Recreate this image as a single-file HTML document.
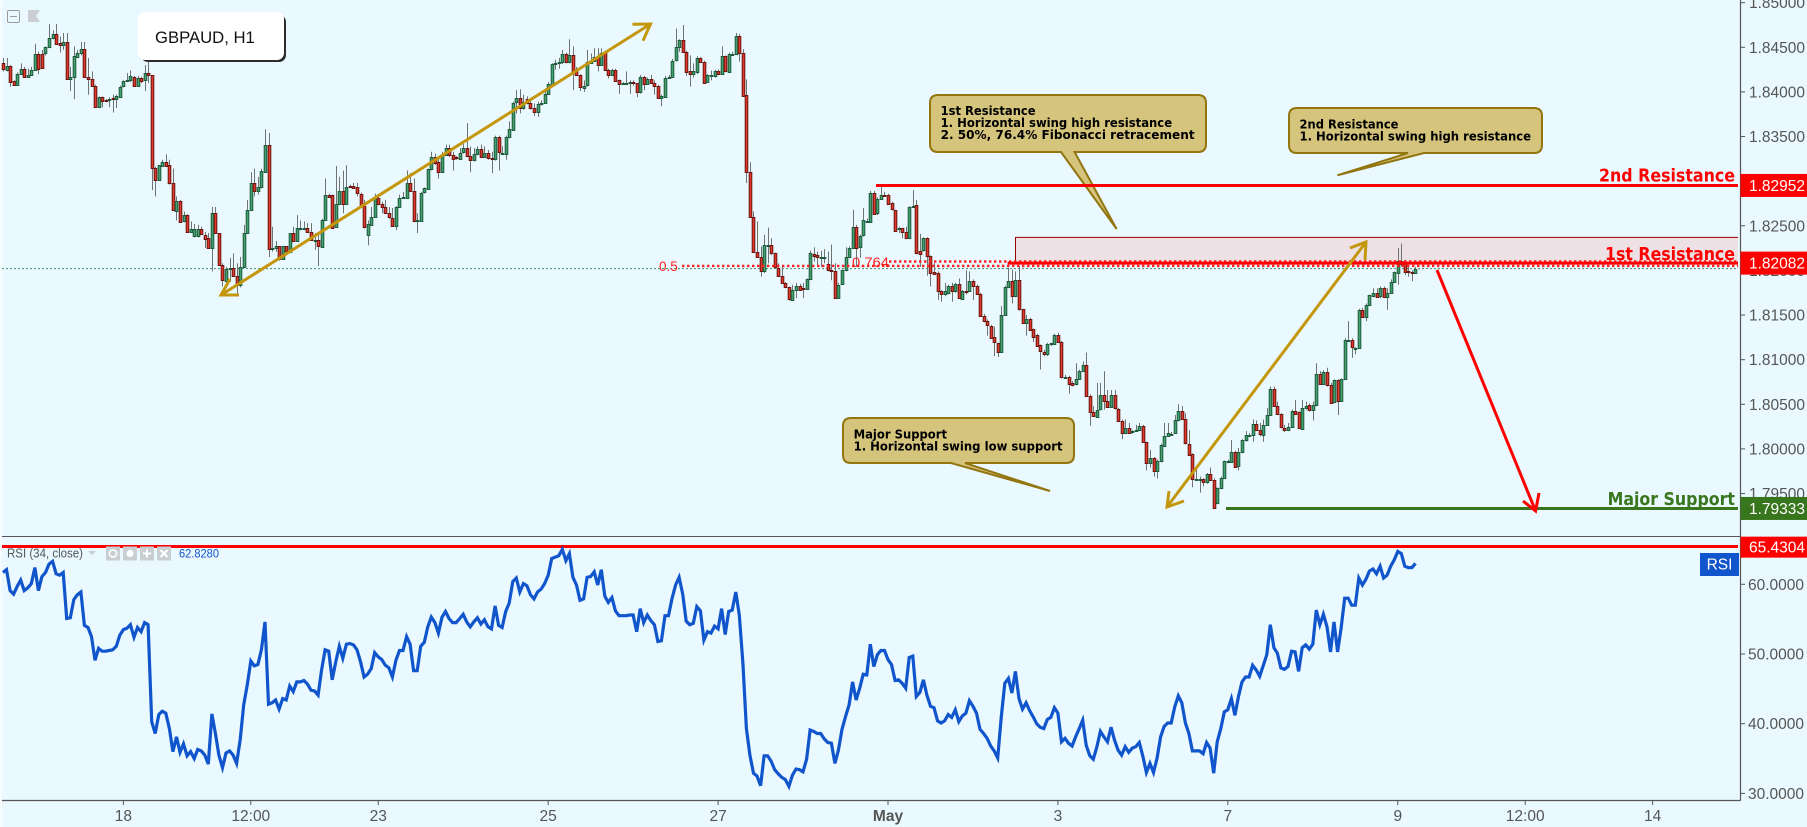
<!DOCTYPE html>
<html lang="en">
<head>
<meta charset="utf-8">
<title>GBPAUD H1 chart</title>
<style>
html,body{margin:0;padding:0;background:#e9f9ff;width:1807px;height:827px;overflow:hidden}
svg{display:block;font-family:"Liberation Sans",sans-serif}
.co{fill:#d4c47c;stroke:#93750f;stroke-width:2}
.cot{font-family:"DejaVu Sans",sans-serif;font-weight:700;font-size:12px;fill:#000}
.lvl{font-family:"DejaVu Sans",sans-serif;font-weight:700;font-size:17.5px}
.gold{stroke:#c4960c;stroke-width:3;fill:none}
.redar{stroke:#ff0000;stroke-width:3;fill:none}
</style>
</head>
<body>
<svg id="chart" width="1807" height="827" viewBox="0 0 1807 827">
<rect x="0" y="0" width="1807" height="827" fill="#e9f9ff"/>
<rect x="0" y="0" width="2" height="827" fill="#f7fcfe"/>
<g id="layer-zone"></g>
<g id="layer-candles"></g>
<g>
<path class="co" d="M938,95 H1198 Q1206,95 1206,103 V144 Q1206,152 1198,152 H1074.6 L1116.6,229 L1061,152 H938 Q930,152 930,144 V103 Q930,95 938,95 Z"/>
<text class="cot" x="940.6" y="115" textLength="95" lengthAdjust="spacingAndGlyphs">1st Resistance</text>
<text class="cot" x="940.6" y="127" textLength="231.5" lengthAdjust="spacingAndGlyphs">1. Horizontal swing high resistance</text>
<text class="cot" x="940.6" y="139" textLength="254" lengthAdjust="spacingAndGlyphs">2. 50%, 76.4% Fibonacci retracement</text>
</g>
<g>
<path class="co" d="M1297,108 H1534 Q1542,108 1542,116 V145 Q1542,153 1534,153 H1424 L1337.4,175.3 L1408,153 H1297 Q1289,153 1289,145 V116 Q1289,108 1297,108 Z"/>
<text class="cot" x="1299.5" y="128.3" textLength="99" lengthAdjust="spacingAndGlyphs">2nd Resistance</text>
<text class="cot" x="1299.5" y="140.3" textLength="231.5" lengthAdjust="spacingAndGlyphs">1. Horizontal swing high resistance</text>
</g>
<g>
<path class="co" d="M851,418 H1066 Q1074,418 1074,426 V455 Q1074,463 1066,463 H965 L1050,491 L951,463 H851 Q843,463 843,455 V426 Q843,418 851,418 Z"/>
<text class="cot" x="853.6" y="438.3" textLength="93.4" lengthAdjust="spacingAndGlyphs">Major Support</text>
<text class="cot" x="853.6" y="450.3" textLength="209" lengthAdjust="spacingAndGlyphs">1. Horizontal swing low support</text>
</g>
<g id="layer-levels"></g>
<g>
<path class="gold" d="M221,295 L650.5,24 M230,279 L221,295 L239,295 M632.5,24.3 L650.5,24 L643,40.7"/>
</g>
<g>
<path class="gold" d="M1167,507 L1366,242 M1169,491 L1167,507 L1184,501 M1350,248 L1366,242 L1365,260"/>
</g>
<g>
<path class="redar" d="M1437,270 L1535.6,511 M1523,501 L1535.6,511 L1539,493"/>
</g>
<text x="659" y="271" font-size="13.5" fill="#ff2020">0.5</text>
<text x="852" y="267" font-size="13.5" fill="#ff2020" textLength="37" lengthAdjust="spacingAndGlyphs">0.764</text>
<text class="lvl" x="1599" y="181.7" fill="#ff0000" textLength="136" lengthAdjust="spacingAndGlyphs">2nd Resistance</text>
<text class="lvl" x="1605" y="260" fill="#ff0000" textLength="130" lengthAdjust="spacingAndGlyphs">1st Resistance</text>
<text class="lvl" x="1607.6" y="505" fill="#3a761e" textLength="127.4" lengthAdjust="spacingAndGlyphs">Major Support</text>
<g id="layer-rsi"></g>
<g id="layer-axes"></g>
<g>
<rect x="141" y="15" width="145" height="47" rx="7" fill="#2c2c2c"/>
<rect x="138" y="12" width="146" height="48" rx="7" fill="#ffffff"/>
<text x="155" y="43" font-size="16.7" fill="#111111">GBPAUD, H1</text>
</g>
<g>
<rect x="7.5" y="10.5" width="12" height="12" rx="1.5" fill="none" stroke="#9a9a9a"/>
<line x1="10" y1="16.5" x2="17" y2="16.5" stroke="#9a9a9a"/>
</g>
<path d="M28,10 H40 L36,16 L40,22 H28 Z" fill="#cbcfd2"/>
<g>
<text x="7" y="557.5" font-size="12.5" fill="#555555" textLength="76" lengthAdjust="spacingAndGlyphs">RSI (34, close)</text>
<path d="M88,551 H96 L92,555 Z" fill="#c8ced2"/>
<rect x="106" y="546.5" width="14" height="14" fill="#c8ced2"/>
<circle cx="113" cy="553.5" r="3.6" fill="none" stroke="#fff" stroke-width="1.6"/>
<rect x="123" y="546.5" width="14" height="14" fill="#c8ced2"/>
<circle cx="130" cy="553.5" r="3.6" fill="#fff"/>
<rect x="140" y="546.5" width="14" height="14" fill="#c8ced2"/>
<path d="M147,549.5 V557.5 M143,553.5 H151" stroke="#fff" stroke-width="2"/>
<rect x="157" y="546.5" width="14" height="14" fill="#c8ced2"/>
<path d="M160.5,550 L167.5,557 M167.5,550 L160.5,557" stroke="#fff" stroke-width="2"/>
<text x="179" y="557.5" font-size="12" fill="#1155cc" textLength="40" lengthAdjust="spacingAndGlyphs">62.8280</text>
</g>
</svg>
<script>
const opens=[1.8432,1.8424,1.8429,1.8412,1.8408,1.8420,1.8426,1.8417,1.8419,1.8425,
1.8443,1.8443,1.8443,1.8450,1.8460,1.8465,1.8455,1.8453,1.8456,1.8415,
1.8417,1.8440,1.8444,1.8448,1.8417,1.8415,1.8407,1.8383,1.8394,1.8391,
1.8391,1.8393,1.8392,1.8395,1.8406,1.8413,1.8413,1.8417,1.8407,1.8416,
1.8413,1.8421,1.8419,1.8315,1.8301,1.8318,1.8322,1.8318,1.8298,1.8267,
1.8278,1.8255,1.8262,1.8243,1.8238,1.8238,1.8246,1.8240,1.8236,1.8225,
1.8264,1.8242,1.8206,1.8189,1.8202,1.8203,1.8194,1.8184,1.8204,1.8242,
1.8268,1.8298,1.8289,1.8293,1.8311,1.8341,1.8224,1.8225,1.8227,1.8212,
1.8227,1.8221,1.8242,1.8233,1.8248,1.8248,1.8248,1.8243,1.8234,1.8234,
1.8227,1.8257,1.8285,1.8285,1.8248,1.8274,1.8289,1.8275,1.8295,1.8295,
1.8293,1.8286,1.8272,1.8240,1.8251,1.8260,1.8281,1.8274,1.8271,1.8264,
1.8259,1.8250,1.8271,1.8281,1.8281,1.8298,1.8289,1.8256,1.8256,1.8287,
1.8292,1.8313,1.8327,1.8321,1.8310,1.8329,1.8337,1.8329,1.8327,1.8325,
1.8332,1.8337,1.8328,1.8323,1.8330,1.8336,1.8327,1.8332,1.8326,1.8324,
1.8349,1.8332,1.8330,1.8349,1.8358,1.8388,1.8393,1.8382,1.8392,1.8388,
1.8382,1.8378,1.8388,1.8388,1.8398,1.8409,1.8432,1.8433,1.8433,1.8442,
1.8433,1.8441,1.8423,1.8419,1.8405,1.8407,1.8433,1.8435,1.8439,1.8430,
1.8444,1.8425,1.8419,1.8425,1.8413,1.8410,1.8410,1.8410,1.8411,1.8410,
1.8400,1.8417,1.8409,1.8415,1.8410,1.8407,1.8393,1.8395,1.8417,1.8417,
1.8435,1.8450,1.8458,1.8445,1.8423,1.8420,1.8422,1.8438,1.8434,1.8411,
1.8419,1.8417,1.8423,1.8420,1.8440,1.8423,1.8443,1.8443,1.8463,1.8444,
1.8396,1.8310,1.8260,1.8221,1.8215,1.8199,1.8228,1.8228,1.8219,1.8203,
1.8194,1.8186,1.8181,1.8167,1.8178,1.8183,1.8180,1.8179,1.8190,1.8218,
1.8217,1.8215,1.8215,1.8207,1.8200,1.8199,1.8169,1.8184,1.8200,1.8215,
1.8225,1.8249,1.8227,1.8239,1.8255,1.8255,1.8287,1.8264,1.8280,1.8285,
1.8284,1.8275,1.8268,1.8247,1.8247,1.8243,1.8236,1.8272,1.8273,1.8222,
1.8222,1.8236,1.8216,1.8198,1.8197,1.8177,1.8174,1.8175,1.8183,1.8177,
1.8185,1.8168,1.8177,1.8177,1.8188,1.8183,1.8174,1.8149,1.8143,1.8138,
1.8125,1.8119,1.8109,1.8150,1.8181,1.8188,1.8171,1.8189,1.8157,1.8141,
1.8146,1.8134,1.8128,1.8116,1.8109,1.8107,1.8119,1.8118,1.8128,1.8120,
1.8081,1.8081,1.8074,1.8072,1.8078,1.8087,1.8094,1.8059,1.8041,1.8036,
1.8044,1.8060,1.8054,1.8047,1.8060,1.8045,1.8031,1.8018,1.8024,1.8020,
1.8021,1.8021,1.8026,1.8008,1.7984,1.7990,1.7975,1.7986,1.8004,1.8015,
1.8017,1.8017,1.8032,1.8042,1.8033,1.8006,1.7994,1.7966,1.7966,1.7966,
1.7963,1.7972,1.7965,1.7939,1.7956,1.7967,1.7986,1.7986,1.7997,1.7980,
1.7996,1.8010,1.8016,1.8016,1.8028,1.8021,1.8016,1.8027,1.8038,1.8067,
1.8048,1.8039,1.8024,1.8022,1.8025,1.8043,1.8041,1.8023,1.8046,1.8049,
1.8043,1.8049,1.8084,1.8073,1.8086,1.8072,1.8052,1.8077,1.8053,1.8078,
1.8122,1.8122,1.8113,1.8113,1.8156,1.8148,1.8161,1.8172,1.8175,1.8171,
1.8180,1.8170,1.8175,1.8187,1.8197,1.8211,1.8210,1.8199,1.8198,1.8197];
const highs=[1.8438,1.8438,1.8430,1.8413,1.8422,1.8432,1.8428,1.8426,1.8428,1.8454,
1.8445,1.8447,1.8451,1.8476,1.8469,1.8476,1.8462,1.8466,1.8466,1.8428,
1.8451,1.8447,1.8456,1.8456,1.8438,1.8423,1.8408,1.8395,1.8395,1.8392,
1.8394,1.8397,1.8397,1.8407,1.8413,1.8421,1.8424,1.8418,1.8418,1.8417,
1.8430,1.8434,1.8419,1.8316,1.8318,1.8324,1.8330,1.8324,1.8314,1.8283,
1.8279,1.8266,1.8263,1.8255,1.8252,1.8251,1.8249,1.8243,1.8242,1.8271,
1.8271,1.8242,1.8208,1.8204,1.8214,1.8219,1.8208,1.8215,1.8251,1.8279,
1.8310,1.8314,1.8305,1.8314,1.8358,1.8354,1.8249,1.8233,1.8227,1.8227,
1.8227,1.8242,1.8249,1.8262,1.8256,1.8255,1.8253,1.8253,1.8242,1.8243,
1.8258,1.8303,1.8286,1.8285,1.8317,1.8305,1.8312,1.8318,1.8296,1.8298,
1.8298,1.8287,1.8279,1.8256,1.8271,1.8286,1.8285,1.8277,1.8279,1.8271,
1.8270,1.8272,1.8285,1.8288,1.8312,1.8309,1.8303,1.8264,1.8288,1.8293,
1.8314,1.8333,1.8331,1.8326,1.8333,1.8341,1.8341,1.8333,1.8328,1.8337,
1.8342,1.8365,1.8339,1.8337,1.8339,1.8341,1.8339,1.8335,1.8333,1.8351,
1.8351,1.8339,1.8351,1.8367,1.8389,1.8402,1.8403,1.8397,1.8395,1.8393,
1.8387,1.8389,1.8391,1.8404,1.8411,1.8432,1.8436,1.8438,1.8447,1.8444,
1.8459,1.8451,1.8428,1.8420,1.8413,1.8447,1.8443,1.8449,1.8449,1.8449,
1.8445,1.8426,1.8426,1.8426,1.8414,1.8411,1.8423,1.8413,1.8413,1.8410,
1.8419,1.8418,1.8416,1.8419,1.8413,1.8408,1.8397,1.8418,1.8419,1.8437,
1.8471,1.8459,1.8475,1.8446,1.8441,1.8432,1.8440,1.8439,1.8435,1.8420,
1.8424,1.8425,1.8425,1.8451,1.8441,1.8444,1.8445,1.8466,1.8465,1.8448,
1.8414,1.8321,1.8266,1.8255,1.8227,1.8240,1.8248,1.8236,1.8220,1.8208,
1.8204,1.8187,1.8182,1.8184,1.8186,1.8185,1.8186,1.8191,1.8222,1.8226,
1.8221,1.8222,1.8224,1.8221,1.8229,1.8208,1.8186,1.8201,1.8226,1.8227,
1.8268,1.8251,1.8240,1.8270,1.8258,1.8289,1.8289,1.8282,1.8296,1.8288,
1.8286,1.8277,1.8268,1.8249,1.8248,1.8249,1.8272,1.8290,1.8279,1.8241,
1.8237,1.8237,1.8217,1.8208,1.8199,1.8178,1.8186,1.8184,1.8186,1.8186,
1.8191,1.8178,1.8200,1.8199,1.8190,1.8184,1.8175,1.8151,1.8145,1.8139,
1.8137,1.8119,1.8160,1.8183,1.8203,1.8201,1.8199,1.8205,1.8157,1.8150,
1.8147,1.8135,1.8129,1.8117,1.8111,1.8119,1.8119,1.8129,1.8130,1.8121,
1.8083,1.8082,1.8076,1.8096,1.8089,1.8098,1.8108,1.8061,1.8048,1.8074,
1.8074,1.8087,1.8066,1.8066,1.8066,1.8046,1.8033,1.8033,1.8029,1.8021,
1.8027,1.8029,1.8027,1.8008,1.7999,1.7991,1.7988,1.8006,1.8029,1.8029,
1.8019,1.8038,1.8050,1.8048,1.8040,1.8021,1.7995,1.7977,1.7969,1.7967,
1.7973,1.7979,1.7967,1.7957,1.7969,1.7987,1.7988,1.8010,1.7998,1.8001,
1.8011,1.8020,1.8018,1.8033,1.8032,1.8029,1.8033,1.8046,1.8070,1.8070,
1.8053,1.8040,1.8027,1.8029,1.8044,1.8055,1.8042,1.8055,1.8053,1.8051,
1.8053,1.8096,1.8087,1.8088,1.8091,1.8074,1.8078,1.8078,1.8079,1.8124,
1.8143,1.8124,1.8114,1.8157,1.8158,1.8163,1.8173,1.8180,1.8180,1.8182,
1.8182,1.8180,1.8190,1.8199,1.8225,1.8230,1.8212,1.8204,1.8200,1.8204];
const lows=[1.8423,1.8423,1.8406,1.8407,1.8407,1.8419,1.8416,1.8416,1.8419,1.8424,
1.8420,1.8426,1.8441,1.8449,1.8459,1.8453,1.8444,1.8447,1.8414,1.8401,
1.8392,1.8440,1.8441,1.8416,1.8397,1.8407,1.8383,1.8383,1.8383,1.8389,
1.8383,1.8377,1.8382,1.8394,1.8405,1.8411,1.8411,1.8407,1.8407,1.8410,
1.8401,1.8410,1.8290,1.8283,1.8301,1.8317,1.8318,1.8296,1.8267,1.8256,
1.8254,1.8254,1.8243,1.8243,1.8237,1.8237,1.8240,1.8225,1.8225,1.8199,
1.8241,1.8205,1.8182,1.8183,1.8187,1.8193,1.8172,1.8181,1.8203,1.8241,
1.8267,1.8283,1.8285,1.8292,1.8310,1.8215,1.8221,1.8221,1.8211,1.8212,
1.8220,1.8220,1.8233,1.8233,1.8245,1.8245,1.8242,1.8233,1.8223,1.8205,
1.8226,1.8256,1.8282,1.8248,1.8248,1.8274,1.8264,1.8274,1.8293,1.8292,
1.8283,1.8271,1.8247,1.8228,1.8250,1.8259,1.8273,1.8264,1.8263,1.8258,
1.8249,1.8245,1.8270,1.8280,1.8280,1.8288,1.8254,1.8242,1.8255,1.8286,
1.8291,1.8312,1.8318,1.8303,1.8309,1.8328,1.8327,1.8312,1.8324,1.8324,
1.8331,1.8327,1.8310,1.8322,1.8329,1.8326,1.8327,1.8324,1.8309,1.8323,
1.8312,1.8330,1.8324,1.8348,1.8357,1.8376,1.8376,1.8380,1.8386,1.8380,
1.8373,1.8372,1.8385,1.8387,1.8397,1.8408,1.8425,1.8426,1.8431,1.8432,
1.8432,1.8402,1.8418,1.8401,1.8400,1.8406,1.8432,1.8434,1.8423,1.8429,
1.8425,1.8415,1.8418,1.8412,1.8398,1.8408,1.8408,1.8398,1.8407,1.8394,
1.8398,1.8402,1.8408,1.8409,1.8397,1.8392,1.8384,1.8394,1.8415,1.8416,
1.8434,1.8445,1.8444,1.8418,1.8406,1.8416,1.8420,1.8434,1.8410,1.8410,
1.8413,1.8416,1.8420,1.8420,1.8422,1.8422,1.8441,1.8442,1.8434,1.8395,
1.8298,1.8259,1.8220,1.8215,1.8193,1.8197,1.8208,1.8217,1.8202,1.8193,
1.8185,1.8180,1.8166,1.8166,1.8169,1.8178,1.8169,1.8178,1.8189,1.8210,
1.8206,1.8204,1.8208,1.8199,1.8189,1.8169,1.8169,1.8184,1.8199,1.8214,
1.8224,1.8204,1.8214,1.8238,1.8254,1.8254,1.8263,1.8262,1.8280,1.8283,
1.8274,1.8267,1.8245,1.8242,1.8236,1.8235,1.8235,1.8270,1.8218,1.8204,
1.8221,1.8194,1.8182,1.8195,1.8167,1.8165,1.8171,1.8173,1.8165,1.8175,
1.8168,1.8167,1.8173,1.8176,1.8167,1.8173,1.8148,1.8142,1.8127,1.8124,
1.8104,1.8103,1.8109,1.8150,1.8180,1.8163,1.8170,1.8155,1.8140,1.8127,
1.8134,1.8120,1.8115,1.8089,1.8104,1.8104,1.8115,1.8117,1.8119,1.8079,
1.8079,1.8062,1.8070,1.8071,1.8078,1.8086,1.8058,1.8026,1.8036,1.8036,
1.8043,1.8044,1.8046,1.8046,1.8044,1.8030,1.8011,1.8017,1.8017,1.8017,
1.8020,1.8020,1.8007,1.7976,1.7979,1.7969,1.7967,1.7985,1.8004,1.8014,
1.8016,1.8017,1.8031,1.8033,1.8005,1.7993,1.7957,1.7964,1.7951,1.7958,
1.7961,1.7965,1.7933,1.7938,1.7955,1.7967,1.7984,1.7985,1.7979,1.7976,
1.7995,1.8008,1.8014,1.8008,1.8020,1.8014,1.8008,1.8026,1.8038,1.8047,
1.8039,1.8023,1.8019,1.8020,1.8024,1.8039,1.8023,1.8023,1.8044,1.8042,
1.8032,1.8048,1.8072,1.8072,1.8070,1.8051,1.8051,1.8038,1.8053,1.8078,
1.8120,1.8102,1.8106,1.8112,1.8148,1.8143,1.8160,1.8170,1.8170,1.8169,
1.8169,1.8156,1.8174,1.8186,1.8184,1.8204,1.8195,1.8193,1.8188,1.8196];
const closes=[1.8425,1.8429,1.8411,1.8408,1.8420,1.8426,1.8417,1.8419,1.8425,1.8443,
1.8426,1.8427,1.8450,1.8460,1.8465,1.8454,1.8453,1.8456,1.8415,1.8417,
1.8440,1.8444,1.8448,1.8417,1.8415,1.8407,1.8383,1.8394,1.8390,1.8390,
1.8392,1.8392,1.8395,1.8406,1.8412,1.8413,1.8418,1.8407,1.8416,1.8413,
1.8421,1.8419,1.8315,1.8301,1.8318,1.8322,1.8318,1.8298,1.8268,1.8278,
1.8255,1.8262,1.8243,1.8246,1.8246,1.8246,1.8240,1.8236,1.8225,1.8264,
1.8242,1.8206,1.8189,1.8202,1.8203,1.8194,1.8184,1.8204,1.8242,1.8268,
1.8298,1.8289,1.8293,1.8311,1.8341,1.8224,1.8225,1.8227,1.8212,1.8227,
1.8221,1.8242,1.8233,1.8248,1.8248,1.8248,1.8243,1.8234,1.8234,1.8227,
1.8257,1.8285,1.8283,1.8248,1.8274,1.8289,1.8274,1.8294,1.8294,1.8293,
1.8286,1.8272,1.8248,1.8252,1.8260,1.8281,1.8274,1.8271,1.8264,1.8259,
1.8250,1.8271,1.8281,1.8282,1.8298,1.8289,1.8255,1.8256,1.8287,1.8292,
1.8314,1.8327,1.8320,1.8310,1.8329,1.8337,1.8329,1.8325,1.8326,1.8332,
1.8337,1.8328,1.8323,1.8330,1.8336,1.8327,1.8332,1.8326,1.8325,1.8349,
1.8332,1.8332,1.8349,1.8358,1.8388,1.8393,1.8382,1.8389,1.8387,1.8382,
1.8378,1.8387,1.8388,1.8398,1.8409,1.8431,1.8432,1.8433,1.8442,1.8433,
1.8441,1.8423,1.8419,1.8405,1.8407,1.8433,1.8435,1.8439,1.8430,1.8444,
1.8425,1.8419,1.8425,1.8413,1.8409,1.8410,1.8410,1.8411,1.8410,1.8400,
1.8417,1.8409,1.8415,1.8410,1.8407,1.8393,1.8395,1.8416,1.8417,1.8435,
1.8450,1.8458,1.8445,1.8423,1.8420,1.8423,1.8438,1.8434,1.8411,1.8419,
1.8419,1.8423,1.8420,1.8440,1.8423,1.8443,1.8443,1.8463,1.8444,1.8396,
1.8310,1.8260,1.8221,1.8215,1.8199,1.8228,1.8228,1.8219,1.8203,1.8194,
1.8186,1.8181,1.8167,1.8178,1.8183,1.8179,1.8179,1.8190,1.8219,1.8216,
1.8215,1.8215,1.8215,1.8200,1.8199,1.8169,1.8184,1.8200,1.8215,1.8225,
1.8249,1.8225,1.8239,1.8256,1.8255,1.8287,1.8264,1.8280,1.8285,1.8284,
1.8274,1.8268,1.8245,1.8247,1.8243,1.8236,1.8271,1.8272,1.8219,1.8219,
1.8236,1.8216,1.8197,1.8196,1.8177,1.8174,1.8177,1.8183,1.8177,1.8185,
1.8169,1.8177,1.8176,1.8188,1.8182,1.8174,1.8149,1.8143,1.8138,1.8125,
1.8119,1.8109,1.8150,1.8181,1.8188,1.8171,1.8189,1.8156,1.8141,1.8146,
1.8134,1.8125,1.8116,1.8109,1.8107,1.8118,1.8119,1.8128,1.8120,1.8081,
1.8081,1.8073,1.8072,1.8078,1.8087,1.8094,1.8059,1.8041,1.8036,1.8044,
1.8060,1.8053,1.8047,1.8060,1.8045,1.8031,1.8018,1.8024,1.8018,1.8020,
1.8021,1.8026,1.8008,1.7984,1.7990,1.7975,1.7986,1.8004,1.8015,1.8018,
1.8017,1.8032,1.8042,1.8033,1.8006,1.7994,1.7966,1.7966,1.7966,1.7963,
1.7972,1.7965,1.7934,1.7956,1.7967,1.7986,1.7986,1.7997,1.7980,1.7996,
1.8010,1.8016,1.8016,1.8028,1.8021,1.8016,1.8027,1.8038,1.8067,1.8048,
1.8039,1.8024,1.8022,1.8025,1.8043,1.8040,1.8023,1.8046,1.8048,1.8043,
1.8049,1.8084,1.8073,1.8086,1.8071,1.8052,1.8077,1.8053,1.8078,1.8122,
1.8122,1.8114,1.8113,1.8156,1.8148,1.8161,1.8172,1.8175,1.8171,1.8180,
1.8170,1.8175,1.8187,1.8198,1.8211,1.8208,1.8199,1.8198,1.8197,1.8202];
const rsiValues=[61.7,62.1,59.1,58.6,59.7,60.6,59.1,59.5,60.1,62.4,59.1,61.1,61.7,62.9,63.3,61.5,61.3,61.7,55.1,55.2,
57.8,58.5,58.9,54.1,53.8,52.5,49.1,50.8,50.4,50.4,50.5,50.6,51.1,52.7,53.5,53.7,54.2,52.4,53.8,53.2,
54.5,54.2,40.3,38.6,41.3,41.8,41.5,39.3,36.0,38.1,35.9,37.1,35.4,36.0,35.0,36.3,36.1,35.5,34.2,41.4,
38.6,35.5,33.7,35.8,36.1,35.5,34.3,37.7,42.7,45.6,49.0,48.3,48.5,50.6,54.6,42.8,43.0,43.4,42.1,43.6,
43.4,45.4,44.6,46.0,46.0,46.2,45.7,44.8,44.7,44.1,47.7,50.6,50.4,46.3,48.9,51.1,49.4,51.4,51.5,51.3,
50.6,48.9,46.7,47.1,47.9,50.2,49.6,49.2,48.4,48.0,46.7,49.1,50.5,50.5,52.5,51.4,47.6,47.6,51.1,51.7,
53.9,55.3,54.5,53.0,55.3,56.1,55.1,54.5,54.5,55.1,55.7,54.6,53.9,54.6,55.2,54.3,54.9,53.9,53.6,56.9,
54.1,53.8,56.1,57.3,60.4,60.9,58.9,60.1,59.8,58.5,57.9,58.9,59.3,60.1,61.3,63.7,63.9,64.1,65.0,63.4,
64.4,61.0,59.9,57.7,57.9,61.0,61.1,61.8,59.9,62.1,58.3,57.4,58.1,56.2,55.5,55.5,55.5,55.6,55.6,53.2,
56.5,54.5,55.6,54.8,54.2,51.8,51.9,55.5,55.5,58.0,59.9,61.0,58.6,54.7,54.2,54.4,56.8,56.2,52.0,53.2,
53.0,54.0,53.6,56.5,52.8,56.1,56.3,58.9,55.6,48.7,39.3,35.5,32.9,32.5,31.1,35.4,35.4,34.6,33.4,32.8,
32.3,32.0,31.0,32.6,33.5,33.4,33.1,34.9,39.1,38.9,38.6,38.6,37.8,37.3,37.2,34.3,36.2,39.2,41.0,42.7,
46.0,43.4,45.1,47.1,47.0,51.4,48.2,49.9,50.5,50.5,49.2,48.5,46.2,46.3,45.8,45.1,49.5,49.7,43.9,44.5,
46.3,44.1,42.5,42.3,40.4,40.1,40.4,41.3,40.9,42.0,40.3,41.1,41.5,43.3,42.5,41.5,39.2,38.6,37.9,36.8,
36.1,35.1,41.0,45.8,46.5,44.4,47.5,43.6,42.1,43.0,41.9,41.0,40.0,39.5,39.3,40.6,40.9,42.3,41.5,37.4,
37.9,37.2,36.8,38.1,39.3,40.5,36.9,35.4,34.9,36.7,38.9,38.1,37.4,39.5,37.6,36.2,35.5,36.7,35.9,36.5,
36.7,37.3,35.3,33.0,34.3,33.0,35.0,38.1,39.6,40.1,40.1,42.4,44.0,43.0,40.1,38.6,36.1,36.1,36.1,35.7,
37.3,36.5,32.9,37.4,39.3,41.7,42.0,43.6,41.2,43.9,46.0,46.7,46.7,48.4,47.7,46.8,48.3,49.9,54.2,50.9,
50.1,48.0,47.8,48.2,50.4,50.3,47.5,50.9,51.3,50.7,51.4,56.3,54.2,55.7,53.9,50.3,54.6,50.3,53.7,58.0,
58.0,57.0,57.0,60.9,59.9,60.7,61.9,62.2,61.5,62.6,60.9,61.3,62.6,63.5,64.7,64.4,62.6,62.4,62.4,63.0];
const priceTicks=[1.85,1.845,1.84,1.835,1.83,1.825,1.82,1.815,1.81,1.805,1.8,1.795];
const rsiTicks=[60,50,40,30];
const timeLabels=['18','12:00','23','25','27','May','3','7','9','12:00','14'];
const timeBars=[34,70,106,154,202,250,298,346,394,430,466];
const lastPrice=[1.8202];
const resistance2=[1.82952];
const resistance1=[1.82082];
const support=[1.79333];
const fib50=[1.8205];
const fib764=[1.8210];
const zoneTop=[1.8237];
const rsiLevel=[65.4304];

function xBar(i){return 3+3.54*i;}
function yPrice(p){return 47.3+(1.845-p)*8925;}
function yRsi(v){return 584.3+(60-v)*6.97;}
const NS='http://www.w3.org/2000/svg';
function mk(tag,attrs,parent){
  const el=document.createElementNS(NS,tag);
  for(const k in attrs)el.setAttribute(k,attrs[k]);
  parent.appendChild(el);
  return el;
}
const zoneG=document.getElementById('layer-zone');
const candleG=document.getElementById('layer-candles');
const levelG=document.getElementById('layer-levels');
const rsiG=document.getElementById('layer-rsi');
const axisG=document.getElementById('layer-axes');

/* resistance zone */
const zoneRect=mk('rect',{x:1015.5,y:yPrice(zoneTop[0]),width:1738-1015.5,height:yPrice(resistance1[0])-yPrice(zoneTop[0]),fill:'#ede1e5'},zoneG);


const zoneEdge=mk('path',{d:'M1015.5,'+yPrice(resistance1[0])+' V'+yPrice(zoneTop[0])+' H1738',fill:'none',stroke:'#990000','stroke-width':1},zoneG);



/* last price dotted line */
const lastLine=mk('line',{x1:2,x2:1738,y1:yPrice(lastPrice[0]),y2:yPrice(lastPrice[0]),stroke:'#3f8f66','stroke-width':1,'stroke-dasharray':'2 2'},zoneG);



/* candles */
for(let i=0;i<closes.length;i++){
  const g=mk('g',{},candleG);
  
  
  const x=Math.round(xBar(i));
  const up=closes[i]>=opens[i];
  mk('line',{x1:x+0.5,x2:x+0.5,y1:yPrice(highs[i]),y2:yPrice(lows[i]),stroke:'#6f7372','stroke-width':1},g);
  const top=yPrice(Math.max(opens[i],closes[i]));
  const bot=yPrice(Math.min(opens[i],closes[i]));
  mk('rect',{x:x-0.8,y:Math.round(top)+0.5,width:2.6,height:Math.max(1,Math.round(bot-top)),fill:up?'#43a06f':'#e0392c',stroke:up?'#1f5a3c':'#6b1510','stroke-width':1},g);
}

/* fib dotted lines */
const fibA=mk('line',{x1:682,x2:1738,y1:yPrice(fib50[0]),y2:yPrice(fib50[0]),stroke:'#ff2020','stroke-width':2.4,'stroke-dasharray':'2.4 2.6'},levelG);


const fibB=mk('line',{x1:889,x2:1738,y1:yPrice(fib764[0]),y2:yPrice(fib764[0]),stroke:'#ff2020','stroke-width':2.4,'stroke-dasharray':'2.4 2.6'},levelG);



/* horizontal levels */
const r2=mk('line',{x1:876,x2:1738,y1:yPrice(resistance2[0]),y2:yPrice(resistance2[0]),stroke:'#ff0000','stroke-width':3},levelG);


const r1=mk('line',{x1:1007.6,x2:1738,y1:yPrice(resistance1[0]),y2:yPrice(resistance1[0]),stroke:'#ff0000','stroke-width':3},levelG);


const s1=mk('line',{x1:1226,x2:1738,y1:yPrice(support[0]),y2:yPrice(support[0]),stroke:'#38761d','stroke-width':3},levelG);



/* RSI pane */
const sep=mk('line',{x1:2,x2:1740,y1:536.5,y2:536.5,stroke:'#555555','stroke-width':1},rsiG);


const rl=mk('line',{x1:2,x2:1738,y1:yRsi(rsiLevel[0]),y2:yRsi(rsiLevel[0]),stroke:'#ff0000','stroke-width':3},rsiG);


const rsiPts=rsiValues.map(function(v,i){return xBar(i).toFixed(1)+','+yRsi(v).toFixed(1);}).join(' ');
const rsiLine=mk('polyline',{points:rsiPts,fill:'none',stroke:'#1155cc','stroke-width':3.2,'stroke-linejoin':'miter'},rsiG);



/* axes */
const yAxis=mk('line',{x1:1740.5,x2:1740.5,y1:0,y2:800.5,stroke:'#555555','stroke-width':1.2},axisG);


const xAxis=mk('line',{x1:2,x2:1740.5,y1:800.5,y2:800.5,stroke:'#555555','stroke-width':1.2},axisG);


function tickText(x,y,str,parent,opts){
  const t=mk('text',Object.assign({x:x,y:y,'font-size':15.5,fill:'#555555'},opts||{}),parent);
  t.textContent=str;
  return t;
}
priceTicks.forEach(function(p){
  const y=yPrice(p);
  const tk=mk('line',{x1:1741,x2:1745,y1:y,y2:y,stroke:'#555555'},axisG);
  
  
  const t=tickText(1749,y+5.5,p.toFixed(5),axisG);
  
  
});
rsiTicks.forEach(function(v){
  const y=yRsi(v);
  const tk=mk('line',{x1:1741,x2:1745,y1:y,y2:y,stroke:'#555555'},axisG);
  
  
  const t=tickText(1748,y+5.5,v.toFixed(4),axisG);
  
  
});
timeLabels.forEach(function(lbl,k){
  const x=xBar(timeBars[k]);
  const tk=mk('line',{x1:x,x2:x,y1:801,y2:805,stroke:'#555555'},axisG);
  
  
  const opts={'text-anchor':'middle'};
  if(lbl==='May')opts['font-weight']='700';
  const t=tickText(x,821,lbl,axisG,opts);
  
  
});

/* value tags */
function tag(y,h,color,str){
  const g=mk('g',{},axisG);
  mk('rect',{x:1740.5,y:y-h/2,width:66.5,height:h,fill:color},g);
  const t=tickText(1749,y+5.5,str,g,{fill:'#ffffff'});
  return g;
}
const tagR2=tag(yPrice(resistance2[0]),23,'#ff0000',resistance2[0].toFixed(5));


const tagR1=tag(yPrice(resistance1[0]),23,'#ff0000',resistance1[0].toFixed(5));


const tagS=tag(yPrice(support[0]),23,'#38761d',support[0].toFixed(5));


const tagRsi=tag(yRsi(rsiLevel[0])+0.7,21,'#ff0000',rsiLevel[0].toFixed(4));



/* RSI badge */
const badge=mk('g',{},axisG);


mk('rect',{x:1700,y:553,width:39,height:23,fill:'#1155cc'},badge);
const badgeText=tickText(1719.5,569.5,'RSI',badge,{fill:'#ffffff','text-anchor':'middle'});
</script>
</body>
</html>
